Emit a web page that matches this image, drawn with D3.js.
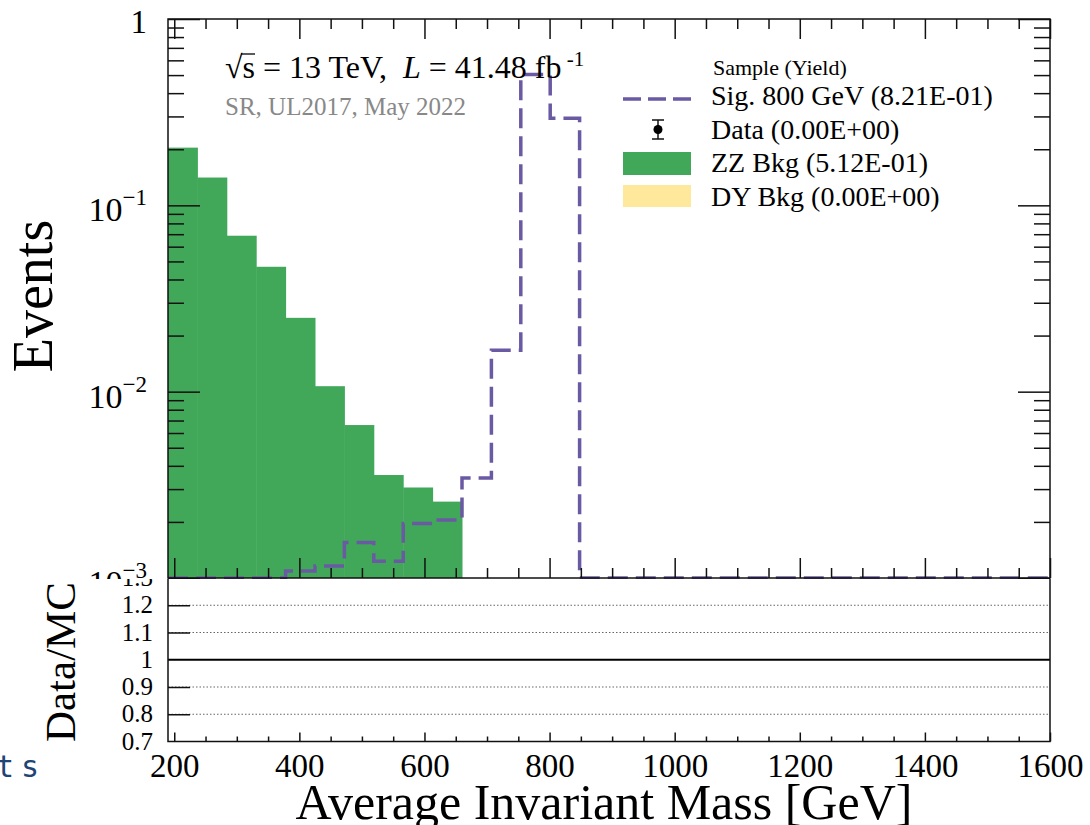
<!DOCTYPE html>
<html><head><meta charset="utf-8">
<script src="https://cdn.jsdelivr.net/npm/d3@7"></script>
<style>
body{margin:0;background:#fff}
svg{display:block}
text{font-family:"Liberation Serif","Times New Roman",serif;fill:#000}
</style>
</head><body>
<svg id="c" width="1090" height="825"></svg>
<script>
// ---------------- data ----------------
const binEdges = [190,237,284,331,378,425,472,519,566,613,660,707,754,801,848,895,942,989,1036,1083,1130,1177,1224,1271,1318,1365,1412,1459,1506,1553,1600];
const zzBkg  = [0.204,0.141,0.0687,0.0468,0.0249,0.0107,0.00662,0.00357,0.00306,0.00257,0,0,0,0,0,0,0,0,0,0,0,0,0,0,0,0,0,0,0,0];
const dyBkg  = [0,0,0,0,0,0,0,0,0,0,0,0,0,0,0,0,0,0,0,0,0,0,0,0,0,0,0,0,0,0];
const sig800 = [0,0,0,0,0.00109,0.00116,0.00155,0.00123,0.00196,0.00205,0.00344,0.0167,0.503,0.293,0,0,0,0,0,0,0,0,0,0,0,0,0,0,0,0];
const xMajorTicks = [200,400,600,800,1000,1200,1400,1600];
const xMinorTicks = [250,300,350,450,500,550,650,700,750,850,900,950,1050,1100,1150,1250,1300,1350,1450,1500,1550];
const yMajorTicks = [0.001,0.01,0.1,1];
const yMinorTicks = [0.002,0.003,0.004,0.005,0.006,0.007,0.008,0.009,0.02,0.03,0.04,0.05,0.06,0.07,0.08,0.09,0.2,0.3,0.4,0.5,0.6,0.7,0.8,0.9];
const yLabelExp = ["−3","−2","−1",""];
const ratioLabels = [0.7,0.8,0.9,1,1.1,1.2,1.3];
const ratioGrid = [0.8,0.9,1.1,1.2];
const legendNames = ["Sig. 800 GeV (8.21E-01)","Data (0.00E+00)","ZZ Bkg (5.12E-01)","DY Bkg (0.00E+00)"];

// ---------------- layout ----------------
const L = 168, R = 1050, T = 19, B = 578, RB = 741.5;
const green = "#41a85a", yellow = "#fde89c", purple = "#6a59a3";

const svg = d3.select("#c");
const x = d3.scaleLinear().domain([190,1600]).range([L,R]);
const y = d3.scaleLog().domain([1e-3,1]).range([B,T]);
const yr = d3.scaleLinear().domain([0.7,1.3]).range([RB,B]);
const yc = v => y(Math.max(v,1e-3));

const main = svg.append("g");

// stacked backgrounds
const bins = zzBkg.map((v,i)=>({x0:binEdges[i],x1:binEdges[i+1],zz:v,dy:dyBkg[i]}));
main.append("g").selectAll("rect.zz").data(bins.filter(d=>d.zz>0)).join("rect")
  .attr("x",d=>x(d.x0)).attr("width",d=>x(d.x1)-x(d.x0)+0.5)
  .attr("y",d=>yc(d.zz)).attr("height",d=>B-yc(d.zz)).attr("fill",green);
main.append("g").selectAll("rect.dy").data(bins.filter(d=>d.dy>0)).join("rect")
  .attr("x",d=>x(d.x0)).attr("width",d=>x(d.x1)-x(d.x0)+0.5)
  .attr("y",d=>yc(d.zz+d.dy)).attr("height",d=>yc(d.zz)-yc(d.zz+d.dy)).attr("fill",yellow);

// signal step outline
const sigPts = [];
sig800.forEach((v,i)=>{ sigPts.push([binEdges[i],v]); sigPts.push([binEdges[i+1],v]); });
main.append("path").datum(sigPts)
  .attr("d", d3.line().x(d=>x(d[0])).y(d=>yc(d[1])))
  .attr("fill","none").attr("stroke",purple).attr("stroke-width",3.5)
  .attr("stroke-dasharray","20,8");

// axes ticks (ROOT-style, inward)
function ticks(g){ g.select(".domain").remove(); g.selectAll("line").attr("stroke","#111").attr("stroke-width",1.5); }
main.append("g").attr("transform",`translate(0,${B})`).call(d3.axisBottom(x).tickValues(xMajorTicks).tickSize(-20).tickFormat("")).call(ticks);
main.append("g").attr("transform",`translate(0,${B})`).call(d3.axisBottom(x).tickValues(xMinorTicks).tickSize(-10).tickFormat("")).call(ticks);
main.append("g").attr("transform",`translate(0,${T})`).call(d3.axisTop(x).tickValues(xMajorTicks).tickSize(-20).tickFormat("")).call(ticks);
main.append("g").attr("transform",`translate(0,${T})`).call(d3.axisTop(x).tickValues(xMinorTicks).tickSize(-10).tickFormat("")).call(ticks);
main.append("g").attr("transform",`translate(${L},0)`).call(d3.axisLeft(y).tickValues(yMajorTicks).tickSize(-32).tickFormat("")).call(ticks);
main.append("g").attr("transform",`translate(${L},0)`).call(d3.axisLeft(y).tickValues(yMinorTicks).tickSize(-16).tickFormat("")).call(ticks);
main.append("g").attr("transform",`translate(${R},0)`).call(d3.axisRight(y).tickValues(yMajorTicks).tickSize(-32).tickFormat("")).call(ticks);
main.append("g").attr("transform",`translate(${R},0)`).call(d3.axisRight(y).tickValues(yMinorTicks).tickSize(-16).tickFormat("")).call(ticks);

main.append("rect").attr("x",L).attr("y",T).attr("width",R-L).attr("height",B-T)
  .attr("fill","none").attr("stroke","#111").attr("stroke-width",1.5);

// y labels
yMajorTicks.forEach((v,i)=>{
  const t = main.append("text").attr("text-anchor","end").attr("x",147)
    .attr("y", y(v) + (v===1?14:16)).attr("font-size",v===1?33:34);
  if (v===1) { t.text("1"); }
  else {
    t.append("tspan").text("10");
    t.append("tspan").attr("font-size",23).attr("dy",-16).text(yLabelExp[i]);
  }
});

// y title
main.append("text").attr("transform","translate(52,296) rotate(-90)")
  .attr("text-anchor","middle").attr("font-size",56).text("Events");

// annotation
const ann = main.append("text").attr("x",225).attr("y",78).attr("font-size",32).style("white-space","pre");
ann.append("tspan").text("√s");
ann.append("tspan").text(" = 13 TeV,  ");
ann.append("tspan").attr("font-style","italic").text("L");
ann.append("tspan").text(" = 41.48 fb");
ann.append("tspan").attr("font-size",21).attr("dy",-12).text(" -1");
main.append("line").attr("x1",241).attr("x2",255).attr("y1",54).attr("y2",54).attr("stroke","#000").attr("stroke-width",1.3);
main.append("text").attr("x",225).attr("y",115).attr("font-size",25).style("fill","#888").text("SR, UL2017, May 2022");

// legend
const lg = main.append("g");
lg.append("text").attr("x",713).attr("y",75).attr("font-size",22).text("Sample (Yield)");
const rowY = [105,139,172,206];
legendNames.forEach((n,i)=>lg.append("text").attr("x",711).attr("y",rowY[i]).attr("font-size",28).text(n));
lg.append("line").attr("x1",623).attr("x2",691).attr("y1",99).attr("y2",99)
  .attr("stroke",purple).attr("stroke-width",3.5).attr("stroke-dasharray","18,7");
lg.append("line").attr("x1",658).attr("x2",658).attr("y1",120).attr("y2",139).attr("stroke","#111").attr("stroke-width",1.5);
lg.append("line").attr("x1",652).attr("x2",664).attr("y1",120).attr("y2",120).attr("stroke","#111").attr("stroke-width",1.5);
lg.append("line").attr("x1",652).attr("x2",664).attr("y1",139).attr("y2",139).attr("stroke","#111").attr("stroke-width",1.5);
lg.append("circle").attr("cx",658).attr("cy",129.5).attr("r",4.5).attr("fill","#000");
lg.append("rect").attr("x",623).attr("y",152).attr("width",68).attr("height",23).attr("fill",green);
lg.append("rect").attr("x",623).attr("y",185).attr("width",68).attr("height",22).attr("fill",yellow);

// ---------------- ratio pad ----------------
svg.append("clipPath").attr("id","rclip").append("rect").attr("x",0).attr("y",579).attr("width",1090).attr("height",250);
const rp = svg.append("g").attr("clip-path","url(#rclip)");
rp.append("rect").attr("x",0).attr("y",579).attr("width",1090).attr("height",250).attr("fill","#fff");

rp.selectAll("line.grid").data(ratioGrid).join("line")
  .attr("x1",L).attr("x2",R).attr("y1",d=>yr(d)).attr("y2",d=>yr(d))
  .attr("stroke","#666").attr("stroke-width",1).attr("stroke-dasharray","1.5,2");
rp.append("line").attr("x1",L).attr("x2",R).attr("y1",yr(1)).attr("y2",yr(1)).attr("stroke","#000").attr("stroke-width",2.2);

rp.append("g").attr("transform",`translate(${L},0)`).call(d3.axisLeft(yr).tickValues(ratioGrid).tickSize(-22).tickFormat("")).call(ticks);
rp.append("g").attr("transform",`translate(0,${RB})`).call(d3.axisBottom(x).tickValues(xMajorTicks).tickSize(-9).tickFormat("")).call(ticks);
rp.append("g").attr("transform",`translate(0,${RB})`).call(d3.axisBottom(x).tickValues(xMinorTicks).tickSize(-5).tickFormat("")).call(ticks);

const rl = rp.append("g").attr("transform",`translate(${L},0)`)
  .call(d3.axisLeft(yr).tickValues(ratioLabels).tickSize(0).tickPadding(15).tickFormat(d=>String(d)));
rl.select(".domain").remove();
rl.selectAll("text").attr("font-size",25).attr("font-family","Liberation Serif").attr("dy","0.3em");

rp.append("rect").attr("x",L).attr("y",B).attr("width",R-L).attr("height",RB-B)
  .attr("fill","none").attr("stroke","#111").attr("stroke-width",1.5);

rp.append("text").attr("transform","translate(75,662) rotate(-90)")
  .attr("text-anchor","middle").attr("font-size",43).text("Data/MC");

const xl = rp.append("g").attr("transform",`translate(0,${RB})`)
  .call(d3.axisBottom(x).tickValues(xMajorTicks).tickSize(0).tickPadding(12).tickFormat(d=>String(d)));
xl.select(".domain").remove();
xl.selectAll("text").attr("font-size",33).attr("font-family","Liberation Serif");

rp.append("text").attr("x",604).attr("y",819).attr("text-anchor","middle").attr("font-size",50)
  .text("Average Invariant Mass [GeV]");

// stray text at bottom-left
svg.append("text").attr("x",-4).attr("y",777).attr("font-size",30)
  .attr("letter-spacing",7).style("font-family","'DejaVu Sans Mono',monospace").style("fill","#1f4476").text("ts");
</script>
</body></html>
